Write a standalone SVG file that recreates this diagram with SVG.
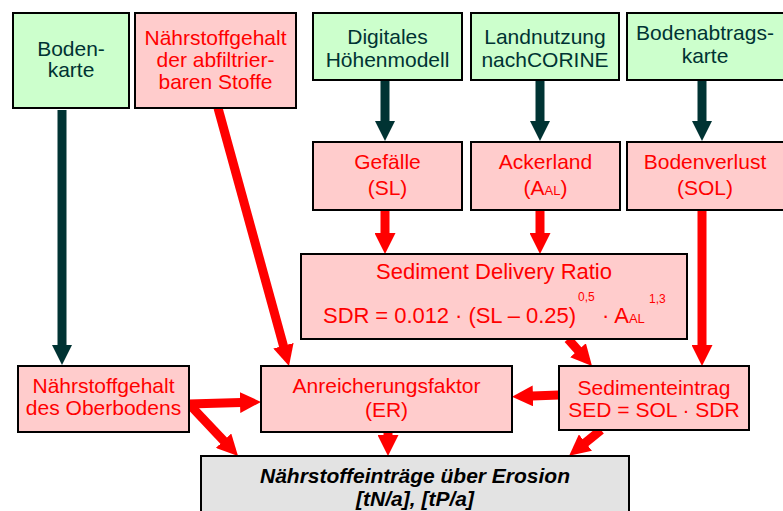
<svg xmlns="http://www.w3.org/2000/svg" width="783" height="511" viewBox="0 0 783 511" font-size="21" text-anchor="middle">
<style>
text{font-family:"Liberation Sans",Arial,sans-serif}
.g rect{fill:#ccffcc;stroke:#000;stroke-width:2}
.g text{fill:#003333}
.r rect{fill:#ffcccc;stroke:#000;stroke-width:2}
.r text{fill:#ff0000}
.f rect{fill:#e3e3e3;stroke:#000;stroke-width:2}
.f text{fill:#000;font-weight:bold;font-style:italic}
.dk{stroke:#003333;stroke-width:9;fill:none}
.rd{stroke:#ff0000;stroke-width:9;fill:none}
</style>
<defs>
<marker id="ad" markerUnits="userSpaceOnUse" markerWidth="20" markerHeight="20" viewBox="0 0 20 20" refX="1" refY="10" orient="auto"><path d="M0,0 L20,10 L0,20 z" fill="#003333"/></marker>
<marker id="ar" markerUnits="userSpaceOnUse" markerWidth="21" markerHeight="21" viewBox="0 0 21 21" refX="1" refY="10.5" orient="auto"><path d="M0,0 L21,10.5 L0,21 z" fill="#ff0000"/></marker>
</defs>
<rect width="783" height="511" fill="#fff"/>
<g id="connectors">
<line class="dk" x1="62" y1="110" x2="62" y2="346" marker-end="url(#ad)"/>
<line class="dk" x1="385" y1="81" x2="385" y2="122" marker-end="url(#ad)"/>
<line class="dk" x1="540" y1="81" x2="540" y2="122" marker-end="url(#ad)"/>
<line class="dk" x1="702" y1="81" x2="702" y2="122" marker-end="url(#ad)"/>
<line class="rd" x1="218" y1="108" x2="283.7" y2="346.7" marker-end="url(#ar)"/>
<line class="rd" x1="385" y1="211" x2="385" y2="234" marker-end="url(#ar)"/>
<line class="rd" x1="540" y1="211" x2="540" y2="234" marker-end="url(#ar)"/>
<line class="rd" x1="702" y1="211" x2="702" y2="346" marker-end="url(#ar)"/>
<line class="rd" x1="568" y1="339" x2="578.7" y2="351" marker-end="url(#ar)"/>
<line class="rd" x1="559" y1="395" x2="532" y2="396" marker-end="url(#ar)"/>
<line class="rd" x1="189" y1="404" x2="241" y2="402.5" marker-end="url(#ar)"/>
<line class="rd" x1="189" y1="404" x2="224.3" y2="441.4" marker-end="url(#ar)"/>
<line class="rd" x1="388" y1="432" x2="388" y2="436" marker-end="url(#ar)"/>
<line class="rd" x1="601" y1="430" x2="584.7" y2="443.2" marker-end="url(#ar)"/>
</g>
<g id="bodenkarte" class="g"><rect x="13" y="13" width="116" height="95"/><text x="71" y="56">Boden-</text><text x="71" y="77">karte</text></g>
<g id="naehrstoff-abfiltr" class="r"><rect x="135" y="13" width="161" height="95"/><text x="215.5" y="45">Nährstoffgehalt</text><text x="215.5" y="67">der abfiltrier-</text><text x="215.5" y="89">baren Stoffe</text></g>
<g id="dhm" class="g"><rect x="313" y="13" width="149" height="67"/><text x="387.5" y="44">Digitales</text><text x="387.5" y="67">Höhenmodell</text></g>
<g id="landnutzung" class="g"><rect x="471" y="13" width="148" height="67"/><text x="545" y="44">Landnutzung</text><text x="545" y="67">nachCORINE</text></g>
<g id="bodenabtrag" class="g"><rect x="627" y="13" width="160" height="67"/><text x="705" y="40">Bodenabtrags-</text><text x="705" y="63">karte</text></g>
<g id="gefaelle" class="r"><rect x="313" y="142" width="149" height="68"/><text x="387.5" y="169">Gefälle</text><text x="387.5" y="195">(SL)</text></g>
<g id="ackerland" class="r"><rect x="471" y="142" width="149" height="68"/><text x="545.5" y="169">Ackerland</text><text x="545.5" y="195">(A<tspan font-size="13">AL</tspan>)</text></g>
<g id="bodenverlust" class="r"><rect x="627" y="142" width="160" height="68"/><text x="705" y="169">Bodenverlust</text><text x="705" y="195">(SOL)</text></g>
<g id="sdr" class="r"><rect x="301" y="254" width="386" height="85"/><text x="494" y="279" font-size="22">Sediment Delivery Ratio</text>
<text text-anchor="start" x="323" y="323" font-size="22" textLength="253" lengthAdjust="spacing">SDR = 0.012 · (SL – 0.25)</text>
<text text-anchor="start" x="578" y="301" font-size="12">0,5</text>
<text text-anchor="start" x="602" y="323" font-size="22">· A<tspan font-size="13">AL</tspan></text>
<text text-anchor="start" x="649" y="303" font-size="12">1,3</text></g>
<g id="oberboden" class="r"><rect x="18" y="366" width="171" height="66"/><text x="103.5" y="393">Nährstoffgehalt</text><text x="103.5" y="415">des Oberbodens</text></g>
<g id="er" class="r"><rect x="261" y="366" width="251" height="66"/><text x="386.5" y="393">Anreicherungsfaktor</text><text x="386.5" y="417">(ER)</text></g>
<g id="sed" class="r"><rect x="559" y="366" width="190" height="64"/><text x="654" y="395">Sedimenteintrag</text><text x="654" y="417">SED = SOL · SDR</text></g>
<g id="ergebnis" class="f"><rect x="201" y="456" width="428" height="70"/><text x="415" y="483">Nährstoffeinträge über Erosion</text><text x="415" y="506">[tN/a], [tP/a]</text></g>
</svg>
